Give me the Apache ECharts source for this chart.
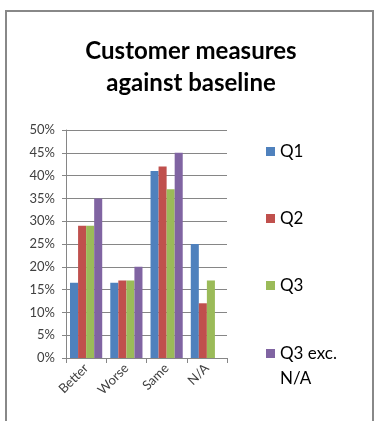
<!DOCTYPE html>
<html>
<head>
<meta charset="utf-8">
<script src="https://cdn.jsdelivr.net/npm/echarts@6/dist/echarts.min.js"></script>
<style>
  html, body { margin: 0; padding: 0; background: #fff; }
  #chart { width: 375px; height: 421px; }
</style>
</head>
<body>
<div id="chart"></div>
<script>
// 顧客指標（ベースライン比）の棒グラフ
const categories = ['Better', 'Worse', 'Same', 'N/A'];
const seriesNames = ['Q1', 'Q2', 'Q3', 'Q3 exc. N/A'];
const q1 = [16.5, 16.5, 41, 25];
const q2 = [29, 17, 42, 12];
const q3 = [29, 17, 37, 17];
const q3exc = [35, 20, 45, null];
const yTicks = [0, 5, 10, 15, 20, 25, 30, 35, 40, 45, 50];

const COLORS = ['#4F81BD', '#C0504D', '#9BBB59', '#8064A2'];
const FONT = 'Lato, "Open Sans", sans-serif';
const AXIS = '#868686';

const chart = echarts.init(document.getElementById('chart'), null, { renderer: 'canvas' });

const values = [q1, q2, q3, q3exc];
const LEGEND_BASE = {
  orient: 'vertical',
  left: 266,
  padding: 0,
  itemWidth: 9,
  itemHeight: 9,
  itemGap: 48,
  icon: 'rect',
  textStyle: { fontFamily: FONT, fontSize: 17, color: '#000', lineHeight: 19 },
};

chart.setOption({
  backgroundColor: '#fff',
  animation: false,
  color: COLORS,
  title: {
    text: 'Customer measures\nagainst baseline',
    left: 186,
    textAlign: 'center',
    top: 30,
    textStyle: { fontFamily: FONT, fontSize: 24, fontWeight: 'bold', color: '#000', lineHeight: 32 },
  },
  graphic: [{
    type: 'rect',
    shape: { x: 6, y: 11, width: 367, height: 430 },
    style: { fill: 'none', stroke: '#888', lineWidth: 2 },
    silent: true,
  }],
  // 最後の凡例だけ2行なので別の凡例に分け、1行目をマーカーに揃える
  legend: [
    { ...LEGEND_BASE, top: 142, data: seriesNames.slice(0, 3) },
    {
      ...LEGEND_BASE,
      top: 316,
      data: [seriesNames[3]],
      textStyle: { ...LEGEND_BASE.textStyle, lineHeight: 25 },
      formatter: (n) => '\n' + n.replace(' N/A', '\nN/A'),
    },
  ],
  grid: { left: 66, right: 148, top: 130, bottom: 63 },
  xAxis: {
    type: 'category',
    data: categories,
    axisLine: { lineStyle: { color: AXIS } },
    axisTick: { show: true, length: 5, lineStyle: { color: AXIS } },
    axisLabel: { rotate: 45, margin: 8, fontFamily: FONT, fontSize: 13, color: '#404040' },
  },
  yAxis: {
    type: 'value',
    min: yTicks[0],
    max: yTicks[yTicks.length - 1],
    interval: yTicks[1] - yTicks[0],
    axisLine: { show: true, lineStyle: { color: AXIS } },
    axisTick: { show: true, length: 4, lineStyle: { color: AXIS } },
    axisLabel: { formatter: '{value}%', margin: 11, fontFamily: FONT, fontSize: 13, color: '#404040' },
    splitLine: { lineStyle: { color: AXIS } },
  },
  series: seriesNames.map((n, i) => ({
    name: n,
    type: 'bar',
    data: values[i],
    barGap: '0%',
    barCategoryGap: '20%',
    itemStyle: { color: COLORS[i] },
  })),
});
</script>
</body>
</html>
